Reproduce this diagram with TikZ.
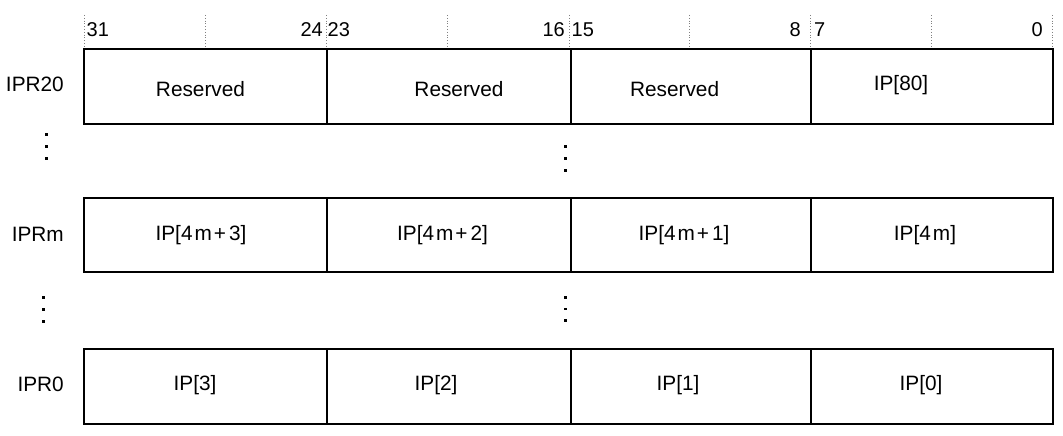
\documentclass[tikz,border=0pt]{standalone}
\usepackage{fontspec}
\setmainfont{Liberation Sans}
\newcommand{\tsp}{\hspace{2pt}}
\begin{document}
\begin{tikzpicture}[x=1pt,y=-1pt,
  cell/.style={draw=black, line width=2pt, inner sep=0pt, anchor=north west, minimum height=74.5pt},
  lbl/.style={inner sep=0pt, anchor=base, font=\fontsize{20.8}{24}\selectfont},
  rowlbl/.style={inner sep=0pt, anchor=base east, font=\fontsize{20.8}{24}\selectfont},
  bitnum/.style={inner sep=0pt, font=\fontsize{20}{24}\selectfont},
  tick/.style={draw=gray, line width=0.8pt, dotted},
  dotmark/.style={rectangle, fill=black, inner sep=0pt, minimum size=2.6pt}]
\useasboundingbox (0,0) rectangle (1063,436);
\fill[white] (0,0) rectangle (1063,436);
% bit ticks
\foreach \n/\x in {t0/84,t1/205.7,t2/326,t3/447,t4/569.5,t5/689.5,t6/810,t7/931,t8/1052.3}{
  \coordinate (\n a) at (\x,15);
  \coordinate (\n b) at (\x,48);
  \draw[tick] (\n a) -- (\n b);
}
% bit numbers
\node[bitnum, anchor=base west] (b31) at (86.5,37) {31};
\node[bitnum, anchor=base east] (b24) at (323,37) {24};
\node[bitnum, anchor=base west] (b23) at (327.5,37) {23};
\node[bitnum, anchor=base east] (b16) at (565,37) {16};
\node[bitnum, anchor=base west] (b15) at (571.5,37) {15};
\node[bitnum, anchor=base east] (b8) at (801,37) {8};
\node[bitnum, anchor=base west] (b7) at (814,37) {7};
\node[bitnum, anchor=base east] (b0) at (1043,37) {0};
% cells
\foreach \r/\y in {a/48.3,b/196.5,c/348}{
  \foreach \c/\x/\w in {1/82.7/243.3,2/326/244,3/570/239.5,4/809.5/242.5}{
    \node[cell, minimum width=\w pt] (\r\c) at (\x,\y) {};
  }
}
% row labels
\node[rowlbl] (la) at (64,91.5) {IPR20};
\node[rowlbl] (lb) at (64,241.5) {IPRm};
\node[rowlbl] (lc) at (64,391.5) {IPR0};
% cell texts
\node[lbl] (ta1) at (200.5,96.5) {Reserved};
\node[lbl] (ta2) at (459,96.5) {Reserved};
\node[lbl] (ta3) at (674.6,96.5) {Reserved};
\node[lbl] (ta4) at (901,90.5) {IP[80]};
\node[lbl] (tb1) at (201,240.8) {IP[4\tsp m\tsp+\hspace{3pt}3]};
\node[lbl] (tb2) at (442.5,240.8) {IP[4\tsp m\tsp+\hspace{3pt}2]};
\node[lbl] (tb3) at (684,240.8) {IP[4\tsp m\tsp+\hspace{3pt}1]};
\node[lbl] (tb4) at (925,240.8) {IP[4\tsp m]};
\node[lbl] (tc1) at (195,390.6) {IP[3]};
\node[lbl] (tc2) at (436,390.6) {IP[2]};
\node[lbl] (tc3) at (678,390.6) {IP[1]};
\node[lbl] (tc4) at (921,390.6) {IP[0]};
% vertical ellipsis dots
\foreach \n/\x/\y in {d1/46.7/134.7,d2/46.7/146.7,d3/46.7/158.7,
                      d4/565.7/146.7,d5/565.7/158.7,d6/565.7/170.7,
                      d7/43.7/297.7,d8/43.7/309.7,d9/43.7/321.7,
                      d10/565.7/297.5,d11/565.7/309,d12/565.7/320.5}{
  \node[dotmark] (\n) at (\x,\y) {};
}
\end{tikzpicture}
\end{document}
